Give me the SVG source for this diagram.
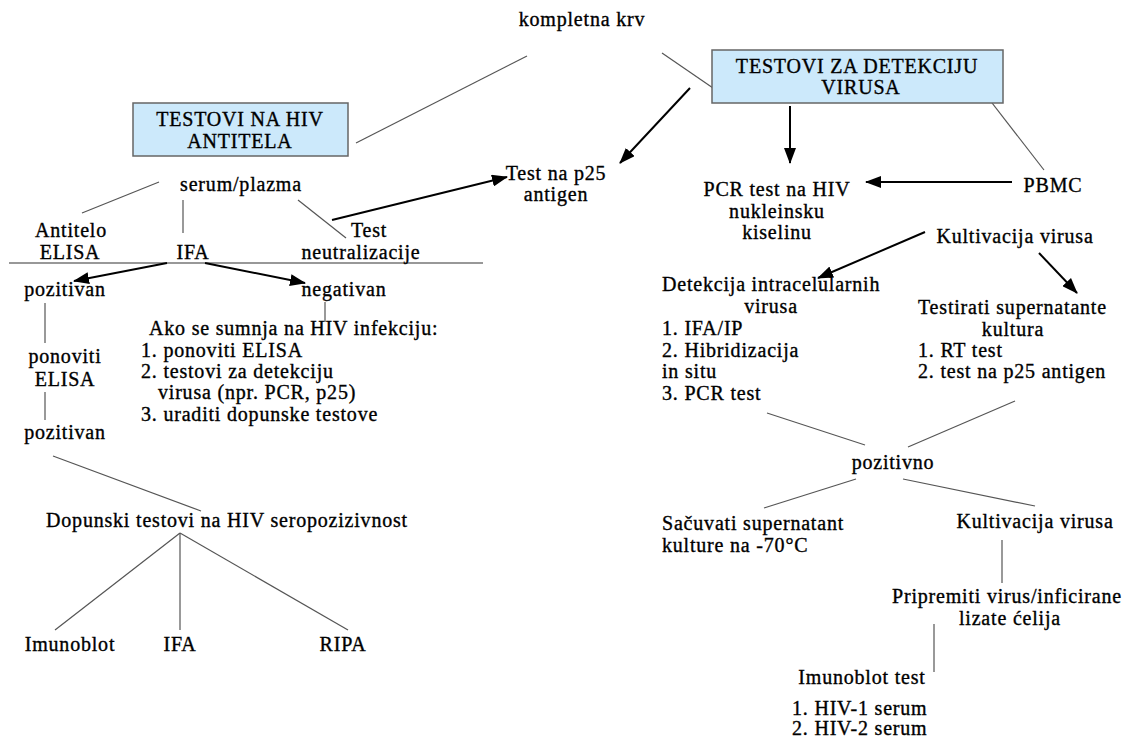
<svg xmlns="http://www.w3.org/2000/svg" width="1133" height="738" viewBox="0 0 1133 738">
<style>
text{font-family:'Liberation Serif','DejaVu Serif','Noto Serif',serif;font-size:20px;letter-spacing:0.8px;fill:#000;stroke:#000;stroke-width:0.35}
.m{text-anchor:middle}
.box{fill:#cce9fb;stroke:#666;stroke-width:1.5}
.ln{stroke:#555;stroke-width:1.2;fill:none}
.ar{stroke:#000;stroke-width:2;fill:none;marker-end:url(#ah)}
</style>
<defs>
<marker id="ah" viewBox="0 0 16 12" refX="15" refY="6" markerWidth="16" markerHeight="12" markerUnits="userSpaceOnUse" orient="auto">
<path d="M0,0 L16,6 L0,12 z" fill="#000"/>
</marker>
</defs>
<rect width="1133" height="738" fill="#fff"/>
<g id="connectors">
<line class="ln" x1="527" y1="56" x2="356" y2="143"/>
<line class="ln" x1="662" y1="53" x2="713" y2="88"/>
<line class="ar" x1="690" y1="88" x2="620" y2="163"/>
<line class="ar" x1="790" y1="106" x2="790" y2="163"/>
<line class="ln" x1="982" y1="90" x2="1044" y2="170"/>
<line class="ar" x1="332" y1="220" x2="507" y2="177"/>
<line class="ar" x1="1012" y1="182" x2="866" y2="182"/>
<line class="ar" x1="925" y1="232" x2="818" y2="278"/>
<line class="ar" x1="1039" y1="253" x2="1077" y2="293"/>
<line class="ln" x1="767" y1="413" x2="865" y2="445"/>
<line class="ln" x1="1015" y1="401" x2="908" y2="447"/>
<line class="ln" x1="856" y1="479" x2="764" y2="508"/>
<line class="ln" x1="903" y1="479" x2="1035" y2="506"/>
<line class="ln" x1="1002" y1="540" x2="1002" y2="583"/>
<line class="ln" x1="934" y1="624" x2="934" y2="672"/>
<line class="ln" x1="159" y1="182" x2="82" y2="213"/>
<line class="ln" x1="183" y1="200" x2="183" y2="233"/>
<line class="ln" x1="298" y1="200" x2="346" y2="238"/>
<line stroke="#333" stroke-width="1.2" x1="9" y1="263" x2="483" y2="263"/>
<line class="ar" x1="167" y1="263" x2="74" y2="281"/>
<line class="ar" x1="205" y1="263" x2="305" y2="283"/>
<line class="ln" x1="45" y1="303" x2="45" y2="343"/>
<line class="ln" x1="45" y1="392" x2="45" y2="420"/>
<line class="ln" x1="325" y1="302" x2="325" y2="322"/>
<line class="ln" x1="53" y1="456" x2="201" y2="511"/>
<line class="ln" x1="180" y1="533" x2="55" y2="630"/>
<line class="ln" x1="180" y1="533" x2="180" y2="630"/>
<line class="ln" x1="180" y1="533" x2="348" y2="630"/>
</g>
<g id="kompletna-krv"><text class="m" x="582" y="26">kompletna krv</text></g>
<g id="box-antitela">
<rect class="box" x="133" y="103" width="215" height="53"/>
<text class="m" x="240" y="126">TESTOVI NA HIV</text>
<text class="m" x="240" y="148">ANTITELA</text>
</g>
<g id="box-detekcija">
<rect class="box" x="712" y="50" width="291" height="53"/>
<text class="m" x="857" y="73">TESTOVI ZA DETEKCIJU</text>
<text class="m" x="861" y="94">VIRUSA</text>
</g>
<g id="p25"><text class="m" x="556" y="180">Test na p25</text><text class="m" x="556" y="201">antigen</text></g>
<g id="serum"><text class="m" x="241" y="191">serum/plazma</text></g>
<g id="pcr"><text class="m" x="777" y="196">PCR test na HIV</text><text class="m" x="777" y="218">nukleinsku</text><text class="m" x="777" y="239">kiselinu</text></g>
<g id="pbmc"><text class="m" x="1053" y="192">PBMC</text></g>
<g id="kultivacija1"><text class="m" x="1015" y="243">Kultivacija virusa</text></g>
<g id="detekcija-intra">
<text x="662" y="291">Detekcija intracelularnih</text>
<text class="m" x="771" y="313">virusa</text>
<text x="662" y="335">1. IFA/IP</text>
<text x="662" y="357">2. Hibridizacija</text>
<text x="662" y="378">in situ</text>
<text x="662" y="400">3. PCR test</text>
</g>
<g id="testirati">
<text x="918" y="314">Testirati supernatante</text>
<text class="m" x="1013" y="336">kultura</text>
<text x="918" y="357">1. RT test</text>
<text x="918" y="378">2. test na p25 antigen</text>
</g>
<g id="pozitivno"><text class="m" x="893" y="469">pozitivno</text></g>
<g id="sacuvati"><text x="662" y="530">Sačuvati supernatant</text><text x="662" y="552">kulture na -70°C</text></g>
<g id="kultivacija2"><text class="m" x="1035" y="528">Kultivacija virusa</text></g>
<g id="pripremiti"><text class="m" x="1007" y="603">Pripremiti virus/inficirane</text><text class="m" x="1010" y="625">lizate ćelija</text></g>
<g id="imunoblot-test"><text class="m" x="862" y="684">Imunoblot test</text></g>
<g id="serumi"><text x="792" y="715">1. HIV-1 serum</text><text x="792" y="735">2. HIV-2 serum</text></g>
<g id="antitelo-elisa"><text class="m" x="71" y="237">Antitelo</text><text class="m" x="70" y="259">ELISA</text></g>
<g id="ifa1"><text class="m" x="193" y="259">IFA</text></g>
<g id="neutralizacija"><text class="m" x="369" y="237">Test</text><text class="m" x="361" y="259">neutralizacije</text></g>
<g id="pozitivan1"><text class="m" x="65" y="296">pozitivan</text></g>
<g id="negativan"><text class="m" x="344" y="296">negativan</text></g>
<g id="ponoviti"><text class="m" x="65" y="363">ponoviti</text><text class="m" x="65" y="386">ELISA</text></g>
<g id="pozitivan2"><text class="m" x="65" y="439">pozitivan</text></g>
<g id="ako">
<text x="149" y="335">Ako se sumnja na HIV infekciju:</text>
<text x="141" y="357">1. ponoviti ELISA</text>
<text x="141" y="378">2. testovi za detekciju</text>
<text x="158" y="399">virusa (npr. PCR, p25)</text>
<text x="141" y="421">3. uraditi dopunske testove</text>
</g>
<g id="dopunski"><text class="m" x="227" y="527">Dopunski testovi na HIV seropozizivnost</text></g>
<g id="imunoblot"><text class="m" x="70" y="651">Imunoblot</text></g>
<g id="ifa2"><text class="m" x="180" y="651">IFA</text></g>
<g id="ripa"><text class="m" x="343" y="651">RIPA</text></g>
</svg>
